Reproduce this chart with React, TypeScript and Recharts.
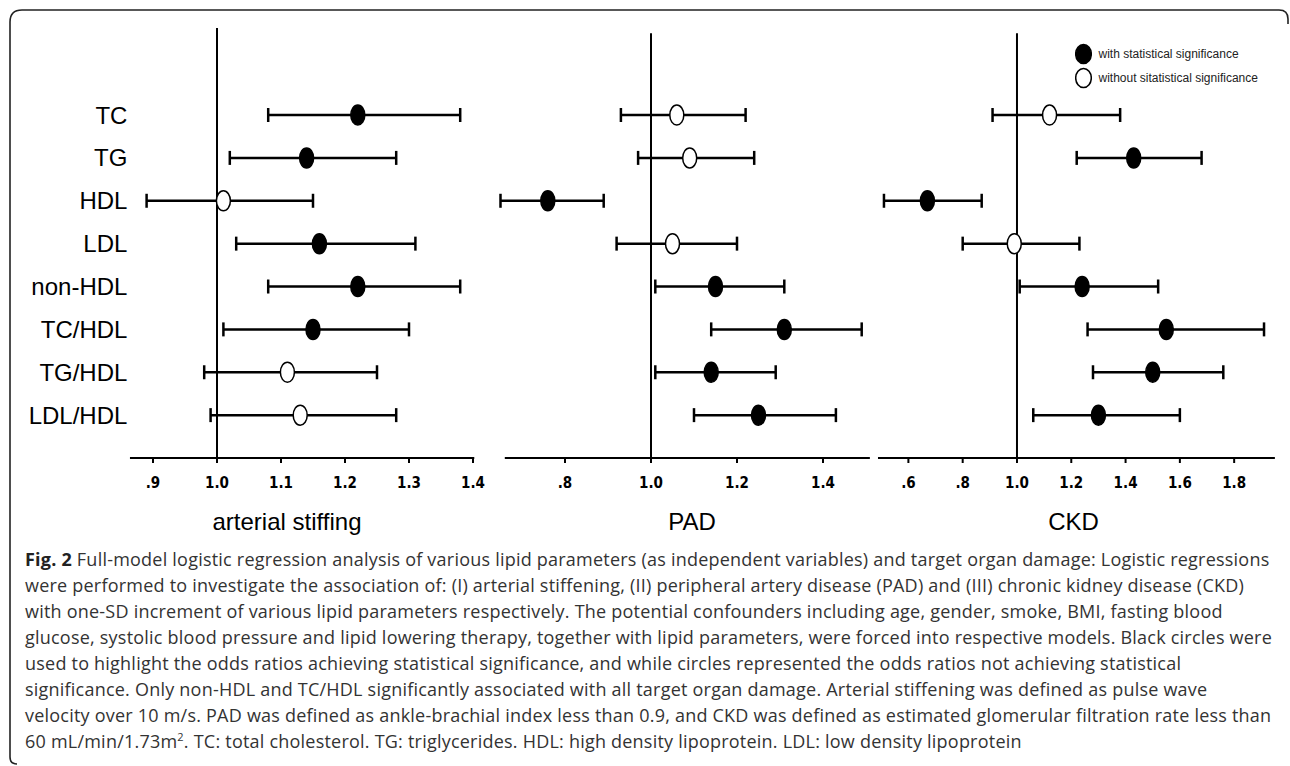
import React from 'react';
import { ScatterChart, Scatter, XAxis, YAxis, ErrorBar, ReferenceLine, Legend } from 'recharts';

// ---- data ----
const rowLabels = ['TC', 'TG', 'HDL', 'LDL', 'non-HDL', 'TC/HDL', 'TG/HDL', 'LDL/HDL'];
const rowIndex = [0, 1, 2, 3, 4, 5, 6, 7];

const asOR = [1.22, 1.14, 1.01, 1.16, 1.22, 1.15, 1.11, 1.13];
const asLow = [1.08, 1.02, 0.89, 1.03, 1.08, 1.01, 0.98, 0.99];
const asHigh = [1.38, 1.28, 1.15, 1.31, 1.38, 1.30, 1.25, 1.28];
const asSig = [true, true, false, true, true, true, false, false];

const padOR = [1.06, 1.09, 0.76, 1.05, 1.15, 1.31, 1.14, 1.25];
const padLow = [0.93, 0.97, 0.65, 0.92, 1.01, 1.14, 1.01, 1.10];
const padHigh = [1.22, 1.24, 0.89, 1.20, 1.31, 1.49, 1.29, 1.43];
const padSig = [false, false, true, false, true, true, true, true];

const ckdOR = [1.12, 1.43, 0.67, 0.99, 1.24, 1.55, 1.50, 1.30];
const ckdLow = [0.91, 1.22, 0.51, 0.80, 1.01, 1.26, 1.28, 1.06];
const ckdHigh = [1.38, 1.68, 0.87, 1.23, 1.52, 1.91, 1.76, 1.60];
const ckdSig = [false, true, true, false, true, true, true, true];

const asTicks = [0.9, 1.0, 1.1, 1.2, 1.3, 1.4];
const padTicks = [0.8, 1.0, 1.2, 1.4];
const ckdTicks = [0.6, 0.8, 1.0, 1.2, 1.4, 1.6, 1.8];

const panelTitles = ['arterial stiffing', 'PAD', 'CKD'];
const seriesNames = ['with statistical significance', 'without sitatistical significance'];

const captionLines = [
  'Full-model logistic regression analysis of various lipid parameters (as independent variables) and target organ damage: Logistic regressions',
  'were performed to investigate the association of: (I) arterial stiffening, (II) peripheral artery disease (PAD) and (III) chronic kidney disease (CKD)',
  'with one-SD increment of various lipid parameters respectively. The potential confounders including age, gender, smoke, BMI, fasting blood',
  'glucose, systolic blood pressure and lipid lowering therapy, together with lipid parameters, were forced into respective models. Black circles were',
  'used to highlight the odds ratios achieving statistical significance, and while circles represented the odds ratios not achieving statistical',
  'significance. Only non-HDL and TC/HDL significantly associated with all target organ damage. Arterial stiffening was defined as pulse wave',
  'velocity over 10 m/s. PAD was defined as ankle-brachial index less than 0.9, and CKD was defined as estimated glomerular filtration rate less than',
];
const captionLastA = '60 mL/min/1.73m';
const captionLastB = '. TC: total cholesterol. TG: triglycerides. HDL: high density lipoprotein. LDL: low density lipoprotein';

// ---- layout ----
const CH = 500;
const MT = 27.14;
const MB = 12;
const Y_DOMAIN = [-2.05, 8];

const panels = [
  {
    title: panelTitles[0], or: asOR, low: asLow, high: asHigh, sig: asSig, ticks: asTicks,
    left: 0, width: 490, ml: 0, mr: 10.6, yWidth: 127.4, domain: [0.86, 1.41], axis: [0.864, 1.402], refTop: -2.03,
    showY: true, showLegend: false, titleX: 287,
  },
  {
    title: panelTitles[1], or: padOR, low: padLow, high: padHigh, sig: padSig, ticks: padTicks,
    left: 480, width: 400, ml: 7.6, mr: 5.4, yWidth: 0, domain: [0.62, 1.52], axis: [0.66, 1.509], refTop: -1.91,
    showY: false, showLegend: false, titleX: 692,
  },
  {
    title: panelTitles[2], or: ckdOR, low: ckdLow, high: ckdHigh, sig: ckdSig, ticks: ckdTicks,
    left: 860, width: 430, ml: 13.1, mr: 12.4, yWidth: 0, domain: [0.47, 1.96], axis: [0.488, 1.95], refTop: -1.91,
    showY: false, showLegend: true, titleX: 1073.5,
  },
];

const fmtTick = (v: number) => (v < 1 ? '.' + Math.round(v * 10) : v.toFixed(1));

function buildRows(p: any, wantSig: boolean) {
  return rowIndex
    .filter((i) => p.sig[i] === wantSig)
    .map((i) => ({ row: i, or: p.or[i], err: [p.or[i] - p.low[i], p.high[i] - p.or[i]] }));
}

const RowTick = (props: any) => (
  <text
    x={props.x}
    y={props.y}
    dy={8.6}
    textAnchor="end"
    fontSize={24}
    fontFamily="'Liberation Sans', Arial, sans-serif"
    fill="#000"
  >
    {rowLabels[props.payload.value]}
  </text>
);

const Marker = (props: any) => (
  <ellipse cx={props.cx} cy={props.cy} rx={7} ry={10} fill={props.fill} stroke="#000" strokeWidth={1.5} />
);

const LegendContent = (props: any) => (
  <div style={{ fontFamily: "'Liberation Sans', Arial, sans-serif", fontSize: 12, color: '#222' }}>
    {(props.payload || []).map((e: any, i: number) => (
      <div key={i} style={{ display: 'flex', alignItems: 'center', height: 24 }}>
        <svg width={17} height={22} style={{ display: 'block' }}>
          <ellipse cx={8.5} cy={11} rx={7.8} ry={9.6} fill={e.color} stroke="#000" strokeWidth={1.5} />
        </svg>
        <span style={{ marginLeft: 7, whiteSpace: 'nowrap' }}>{e.value}</span>
      </div>
    ))}
  </div>
);

function Panel({ p }: { p: any }) {
  const sigRows = buildRows(p, true);
  const nsRows = buildRows(p, false);
  return (
    <div style={{ position: 'absolute', left: p.left, top: 0 }}>
      <ScatterChart width={p.width} height={CH} margin={{ top: MT, right: p.mr, bottom: MB, left: p.ml }}>
        <XAxis
          type="number"
          dataKey="or"
          domain={p.domain}
          ticks={p.ticks}
          interval={0}
          tickFormatter={fmtTick}
          axisLine={false}
          tickLine={{ stroke: '#000', strokeWidth: 2 }}
          tickSize={5}
          tickMargin={14.4}
          height={30}
          tick={{ fill: '#000', fontSize: 15, fontWeight: 700, fontFamily: "'Liberation Sans Narrow', 'DejaVu Sans Condensed', sans-serif" }}
        />
        <YAxis
          type="number"
          dataKey="row"
          domain={Y_DOMAIN}
          reversed
          ticks={rowIndex}
          interval={0}
          hide={!p.showY}
          width={p.yWidth}
          axisLine={false}
          tickLine={false}
          tickSize={0}
          tickMargin={0}
          tick={RowTick}
        />
        <ReferenceLine segment={[{ x: 1, y: p.refTop }, { x: 1, y: 8 }]} stroke="#000" strokeWidth={2} />
        <ReferenceLine segment={[{ x: p.axis[0], y: 8 }, { x: p.axis[1], y: 8 }]} stroke="#000" strokeWidth={2} />
        <Scatter name={seriesNames[0]} data={sigRows} fill="#000" shape={Marker} isAnimationActive={false}>
          <ErrorBar dataKey="err" direction="x" width={7} stroke="#000" strokeWidth={2.5} isAnimationActive={false} />
        </Scatter>
        <Scatter name={seriesNames[1]} data={nsRows} fill="#fff" shape={Marker} isAnimationActive={false}>
          <ErrorBar dataKey="err" direction="x" width={7} stroke="#000" strokeWidth={2.5} isAnimationActive={false} />
        </Scatter>
        {p.showLegend && (
          <Legend
            layout="horizontal"
            verticalAlign="middle"
            align="center"
            content={LegendContent}
            wrapperStyle={{ left: 214.5, top: 42, width: 'auto', height: 'auto' }}
          />
        )}
      </ScatterChart>
      <div
        style={{
          position: 'absolute',
          left: p.titleX - p.left,
          top: 509.7,
          transform: 'translateX(-50%)',
          fontFamily: "'Liberation Sans', Arial, sans-serif",
          fontSize: 24,
          lineHeight: '24px',
          color: '#000',
          whiteSpace: 'nowrap',
        }}
      >
        {p.title}
      </div>
    </div>
  );
}

export default function App() {
  return (
    <div
      style={{
        position: 'absolute',
        left: 0,
        top: 0,
        width: 1290,
        height: 766,
        overflow: 'hidden',
        background: '#fff',
      }}
    >
      <svg width={1290} height={766} style={{ position: 'absolute', left: 0, top: 0 }}>
        <path
          d="M 17 764 Q 10 764 10 757 L 10 22 Q 10 10 22 10 L 1279 10 Q 1288 10 1288 19 L 1288 24"
          fill="none"
          stroke="#222"
          strokeWidth={1.6}
        />
      </svg>
      {panels.map((p, i) => (
        <Panel key={i} p={p} />
      ))}
      <div
        style={{
          position: 'absolute',
          left: 25,
          top: 546,
          fontFamily: "'Open Sans', 'Noto Sans', sans-serif",
          fontSize: 18,
          letterSpacing: 0.22,
          lineHeight: '26px',
          color: '#333',
          whiteSpace: 'nowrap',
        }}
      >
        {captionLines.map((l, i) => (
          <div key={i}>
            {i === 0 && <b style={{ color: '#222' }}>Fig. 2 </b>}
            {l}
          </div>
        ))}
        <div>
          {captionLastA}
          <sup style={{ fontSize: 11, lineHeight: 0 }}>2</sup>
          {captionLastB}
        </div>
      </div>
    </div>
  );
}
